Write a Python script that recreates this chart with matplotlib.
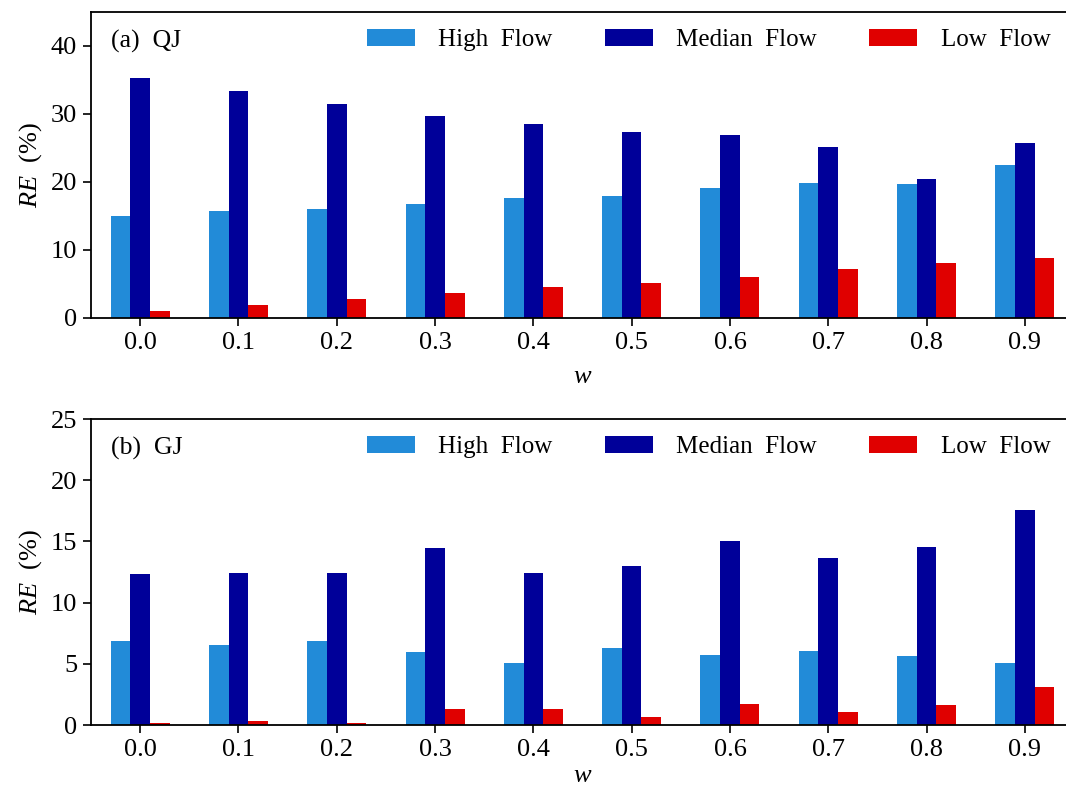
import numpy as np
import matplotlib.pyplot as plt

w_labels = ['0.0', '0.1', '0.2', '0.3', '0.4', '0.5', '0.6', '0.7', '0.8', '0.9']
series_names = ['High  Flow', 'Median  Flow', 'Low  Flow']

qj_high = [15.0, 15.7, 16.1, 16.8, 17.6, 18.0, 19.1, 19.9, 19.7, 22.5]
qj_median = [35.3, 33.4, 31.4, 29.7, 28.5, 27.4, 26.9, 25.1, 20.4, 25.8]
qj_low = [1.1, 1.9, 2.85, 3.7, 4.5, 5.1, 6.1, 7.2, 8.05, 8.85]

gj_high = [6.87, 6.54, 6.87, 5.97, 5.07, 6.27, 5.75, 6.05, 5.62, 5.04]
gj_median = [12.35, 12.43, 12.43, 14.42, 12.43, 13.0, 15.05, 13.63, 14.53, 17.58]
gj_low = [0.14, 0.3, 0.14, 1.28, 1.28, 0.65, 1.74, 1.06, 1.64, 3.08]

colors = ['#228bd8', '#000099', '#e00000']

plt.rcParams['font.family'] = 'Liberation Serif'
plt.rcParams['mathtext.fontset'] = 'custom'
plt.rcParams['mathtext.rm'] = 'Liberation Serif'
plt.rcParams['mathtext.it'] = 'Liberation Serif:italic'
plt.rcParams['font.size'] = 19


def draw(ax, data, ymax, yticks, tag, xpad):
    x = np.arange(len(w_labels))
    width = 0.2
    for i, (vals, name) in enumerate(zip(data, series_names)):
        ax.bar(x + (i - 1) * width, vals, width, color=colors[i], label=name)
    ax.set_xlim(-0.5, 9.5)
    ax.set_ylim(0, ymax)
    ax.set_xticks(x)
    ax.set_xticklabels(w_labels)
    ax.set_yticks(yticks)
    ax.tick_params(direction='out', length=6, width=1.2, labelsize=19, pad=4)
    for s in ax.spines.values():
        s.set_linewidth(1.3)
    ax.set_xlabel(r'$w$', fontsize=19, labelpad=xpad)
    ax.set_ylabel(r'$RE$  (%)', fontsize=19, labelpad=5)
    ax.text(0.02, 0.905, tag, transform=ax.transAxes, fontsize=18.5,
            va='center', ha='left')
    ax.legend(loc='upper right', bbox_to_anchor=(0.976, 0.945), ncol=3,
              frameon=False, borderaxespad=0, borderpad=0,
              handlelength=1.9, handleheight=0.7, handletextpad=0.95,
              columnspacing=2.1, fontsize=18)


fig = plt.figure(figsize=(10.66, 7.92), dpi=100)
ax1 = fig.add_axes([91 / 1066, 1 - 318 / 792, 983 / 1066, 306 / 792])
ax2 = fig.add_axes([91 / 1066, 1 - 725 / 792, 983 / 1066, 306 / 792])

draw(ax1, [qj_high, qj_median, qj_low], 45, [0, 10, 20, 30, 40], '(a)  QJ', 9)
draw(ax2, [gj_high, gj_median, gj_low], 25, [0, 5, 10, 15, 20, 25], '(b)  GJ', 3)

fig.savefig('out.png', dpi=100)
